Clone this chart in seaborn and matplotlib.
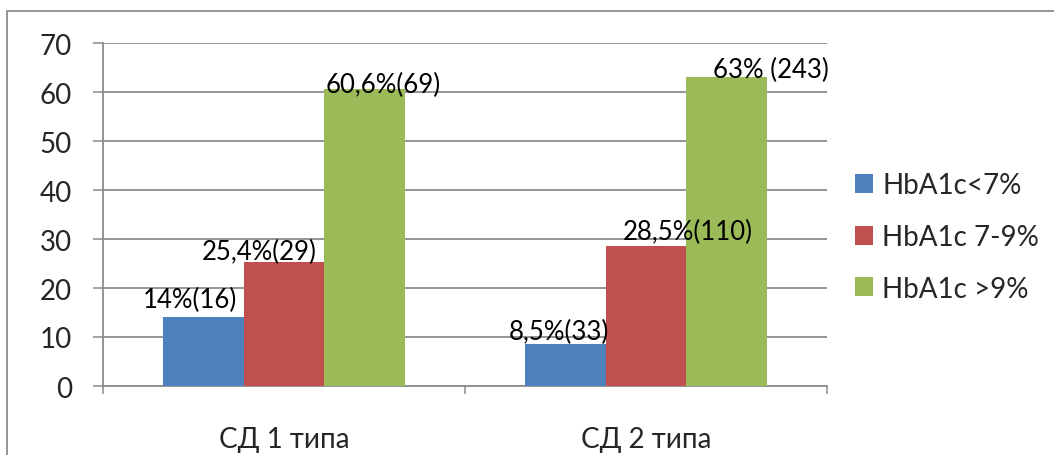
import matplotlib
matplotlib.use("Agg")
import matplotlib.pyplot as plt
from matplotlib.patches import Rectangle
from matplotlib.ticker import FixedLocator
import seaborn as sns
import pandas as pd

# Data
categories = ["СД 1 типа", "СД 2 типа"]
series_names = ["HbA1c<7%", "HbA1c 7-9%", "HbA1c >9%"]
values_below7 = [14.0, 8.5]
values_7to9 = [25.4, 28.5]
values_above9 = [60.6, 63.0]
value_labels_below7 = ["14%(16)", "8,5%(33)"]
value_labels_7to9 = ["25,4%(29)", "28,5%(110)"]
value_labels_above9 = ["60,6%(69)", "63% (243)"]
y_ticks = [0, 10, 20, 30, 40, 50, 60, 70]

series_values = [values_below7, values_7to9, values_above9]
series_labels = [value_labels_below7, value_labels_7to9, value_labels_above9]

rows = []
for name, vals in zip(series_names, series_values):
    for cat, v in zip(categories, vals):
        rows.append({"category": cat, "series": name, "value": v})
df = pd.DataFrame(rows)

palette = ["#4F81BD", "#C0504D", "#9BBB59"]
grid_color = "#8C8C8C"

sns.set_theme(style="white")
plt.rcParams["font.family"] = ["Lato", "Open Sans", "DejaVu Sans"]

fig = plt.figure(figsize=(10.54, 4.56), dpi=100)
W, H = 1054, 456
ax = fig.add_axes([103 / W, 1 - 387 / H, (827 - 103) / W, (387 - 44) / H])

sns.barplot(data=df, x="category", y="value", hue="series", order=categories,
            hue_order=series_names, palette=palette, saturation=1, width=0.667,
            linewidth=0, ax=ax, legend=False, zorder=3)

ax.set_xlim(-0.5, 1.5)
ax.set_ylim(0, 70)
ax.set_yticks(y_ticks)
ax.set_xlabel("")
ax.set_ylabel("")

# Horizontal gridlines
ax.yaxis.grid(True, color=grid_color, linewidth=1.3, zorder=0)
ax.set_axisbelow(True)
for s in ["top", "right"]:
    ax.spines[s].set_visible(False)
for s in ["left", "bottom"]:
    ax.spines[s].set_color(grid_color)
    ax.spines[s].set_linewidth(1.3)

ax.tick_params(axis="y", which="major", direction="out", length=7.2, width=1.1,
               color=grid_color, labelsize=20, pad=15, left=True)
ax.tick_params(axis="x", which="major", length=0, labelsize=20, pad=29)
ax.xaxis.set_minor_locator(FixedLocator([-0.5, 0.5, 1.5]))
ax.tick_params(axis="x", which="minor", direction="out", length=6, width=1.1,
               color=grid_color, bottom=True)

# Value labels placed above the bars (offsets in pixels: dx, dy)
label_offsets = [[(-14, 18), (-7, 13)],
                 [(-25, 10), (42, 15)],
                 [(19, 5), (44, 8)]]
px = 72 / fig.dpi
for container, labels, offs in zip(ax.containers, series_labels, label_offsets):
    for bar, text, (dx, dy) in zip(container.patches, labels, offs):
        cx = bar.get_x() + bar.get_width() / 2
        top = bar.get_height()
        ax.annotate(text, (cx, top), xytext=(dx * px, dy * px),
                    textcoords="offset points", ha="center", va="center",
                    fontsize=18.5, color="black", zorder=5, annotation_clip=False)

# Legend
handles = [Rectangle((0, 0), 1, 1, facecolor=c, edgecolor="none") for c in palette]
fig.legend(handles, series_names, loc="center left",
           bbox_to_anchor=(855 / W, 1 - 238 / H), frameon=False,
           fontsize=20, handlelength=0.66, handleheight=0.66,
           handletextpad=0.32, labelspacing=0.92, borderpad=0, borderaxespad=0)

# Chart area border (open at the bottom/right edges of the image)
top_y = 1 - 11.5 / H
fig.add_artist(Rectangle((7 / W, -0.2), 1.2, top_y + 0.2,
                         transform=fig.transFigure, fill=False,
                         edgecolor=grid_color, linewidth=1.3, clip_on=False))

fig.savefig("out.png", dpi=100)
